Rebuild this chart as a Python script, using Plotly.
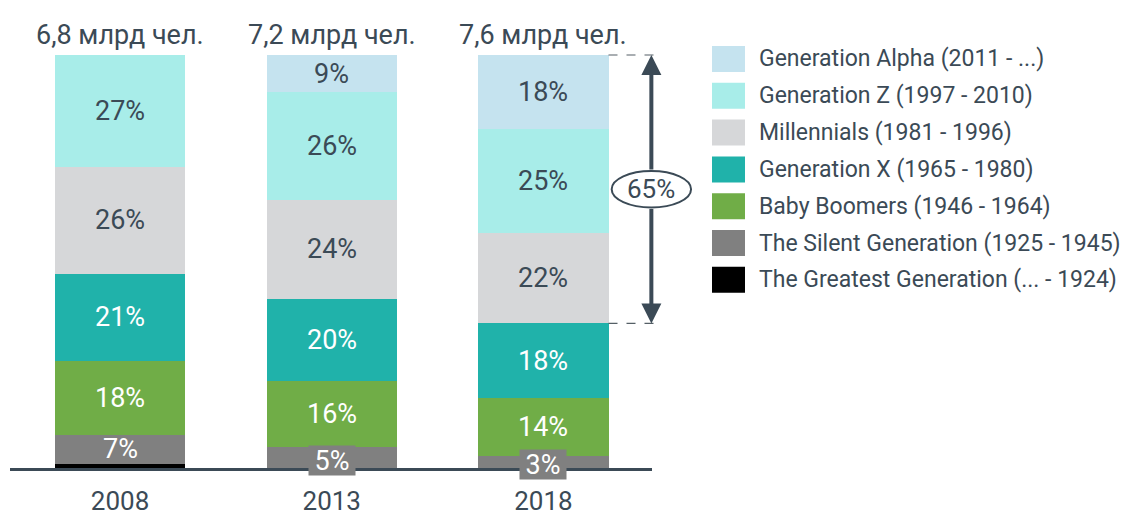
import plotly.graph_objects as go

# ---- data ----
years = ["2008", "2013", "2018"]
totals = ["6,8 млрд чел.", "7,2 млрд чел.", "7,6 млрд чел."]
series_names = [
    "The Greatest Generation (... - 1924)",
    "The Silent Generation (1925 - 1945)",
    "Baby Boomers (1946 - 1964)",
    "Generation X (1965 - 1980)",
    "Millennials (1981 - 1996)",
    "Generation Z (1997 - 2010)",
    "Generation Alpha (2011 - ...)",
]
greatest = [1, 0, 0]
silent = [7, 5, 3]
boomers = [18, 16, 14]
gen_x = [21, 20, 18]
millennials = [26, 24, 22]
gen_z = [27, 26, 25]
alpha = [0, 9, 18]
series_values = [greatest, silent, boomers, gen_x, millennials, gen_z, alpha]

colors = ["#000000", "#808080", "#70ad47", "#20b2aa", "#d6d7d9", "#a8ede9", "#c5e3ef"]
label_dark = [False, False, False, False, True, True, True]
DARK = "#3b4a56"
FONT = "Roboto"

# ---- layout geometry (pixels) ----
W, H = 1135, 516
ML, MR, MT, MB = 10, 483, 55, 48
BARW = 0.615
XR = [-0.52, 2.513]
YR = [0, 100]

def px(xp):
    return (xp - ML) / (W - ML - MR)

def py(yp):
    return (H - MB - yp) / (H - MT - MB)

def dx(xv):  # data x -> paper
    return (xv - XR[0]) / (XR[1] - XR[0])

def dy(yv):  # data y -> paper
    return (yv - YR[0]) / (YR[1] - YR[0])

fig = go.Figure()
for name, vals, col in zip(series_names, series_values, colors):
    fig.add_trace(go.Bar(
        x=years, y=vals, name=name, marker=dict(color=col, line=dict(width=0)),
        width=BARW, showlegend=False, hoverinfo="name+y",
    ))

annotations = []
# segment labels
for i, yr in enumerate(years):
    base = 0
    for s, vals in enumerate(series_values):
        v = vals[i]
        mid = base + v / 2
        base += v
        if v < 3:
            continue
        small = v <= 5
        ann = dict(
            x=i, y=mid, xref="x", yref="y", text=f"{v}%", showarrow=False,
            font=dict(family=FONT, size=27, color=DARK if label_dark[s] else "white"),
        )
        if small:
            ann.update(bgcolor=colors[s], borderpad=0, width=46, height=29, yshift=-3)
        annotations.append(ann)
    # totals above bars
    annotations.append(dict(
        x=i, y=100, xref="x", yref="y", text=totals[i], showarrow=False,
        yanchor="bottom", yshift=2,
        font=dict(family=FONT, size=27, color=DARK),
    ))

# 65% bracket for last year
last = len(years) - 1
share_young = millennials[last] + gen_z[last] + alpha[last]
y_lo = 100 - share_young
y_mid = (100 + y_lo) / 2
xa = 2.51
ell_h = 8.8
ell_w = 0.375
annotations.append(dict(x=xa, y=100, ax=xa, ay=y_mid + ell_h / 2, xref="x", yref="y",
                        axref="x", ayref="y", text="", showarrow=True, arrowhead=2,
                        arrowsize=1, arrowwidth=4, arrowcolor=DARK, standoff=0))
annotations.append(dict(x=xa, y=y_lo, ax=xa, ay=y_mid - ell_h / 2, xref="x", yref="y",
                        axref="x", ayref="y", text="", showarrow=True, arrowhead=2,
                        arrowsize=1, arrowwidth=4, arrowcolor=DARK, standoff=0))
annotations.append(dict(x=xa, y=y_mid, xref="x", yref="y", text=f"{share_young}%",
                        showarrow=False, font=dict(family=FONT, size=26, color=DARK)))

shapes = []
bar_right = last + BARW / 2
for yv in (100, y_lo):
    shapes.append(dict(type="line", xref="paper", yref="paper", x0=dx(bar_right),
                       x1=dx(xa + 0.02), y0=dy(yv), y1=dy(yv),
                       line=dict(color="#555f66", width=1.2, dash="dash")))
shapes.append(dict(type="circle", xref="paper", yref="paper",
                   x0=dx(xa - ell_w / 2), x1=dx(xa + ell_w / 2),
                   y0=dy(y_mid - ell_h / 2), y1=dy(y_mid + ell_h / 2),
                   fillcolor="white", line=dict(color=DARK, width=2), layer="above"))

# manual legend (top = Alpha)
leg_y0 = 59
leg_dy = 36.8
for k, s in enumerate(reversed(range(len(series_names)))):
    yc = leg_y0 + k * leg_dy
    shapes.append(dict(type="rect", xref="paper", yref="paper",
                       x0=px(712), x1=px(745), y0=py(yc + 13), y1=py(yc - 13),
                       fillcolor=colors[s], line=dict(width=0)))
    annotations.append(dict(x=px(757), y=py(yc), xref="paper", yref="paper",
                            text=series_names[s], showarrow=False, xanchor="left",
                            yanchor="middle", font=dict(family=FONT, size=23, color=DARK)))

fig.update_layout(
    barmode="stack", width=W, height=H,
    margin=dict(l=ML, r=MR, t=MT, b=MB, autoexpand=False),
    paper_bgcolor="white", plot_bgcolor="white",
    annotations=annotations, shapes=shapes, showlegend=False,
    xaxis=dict(type="category", range=XR, showline=True, linecolor=DARK, linewidth=2.5,
               showgrid=False, zeroline=False, ticks="", automargin=False,
               tickfont=dict(family=FONT, size=26, color=DARK),
               ticklabelstandoff=8, fixedrange=True),
    yaxis=dict(range=YR, visible=False, showgrid=False, zeroline=False,
               fixedrange=True, automargin=False),
)

fig.write_html("out.html", config={"displayModeBar": False},
               post_script="document.body.style.margin='0px';")
